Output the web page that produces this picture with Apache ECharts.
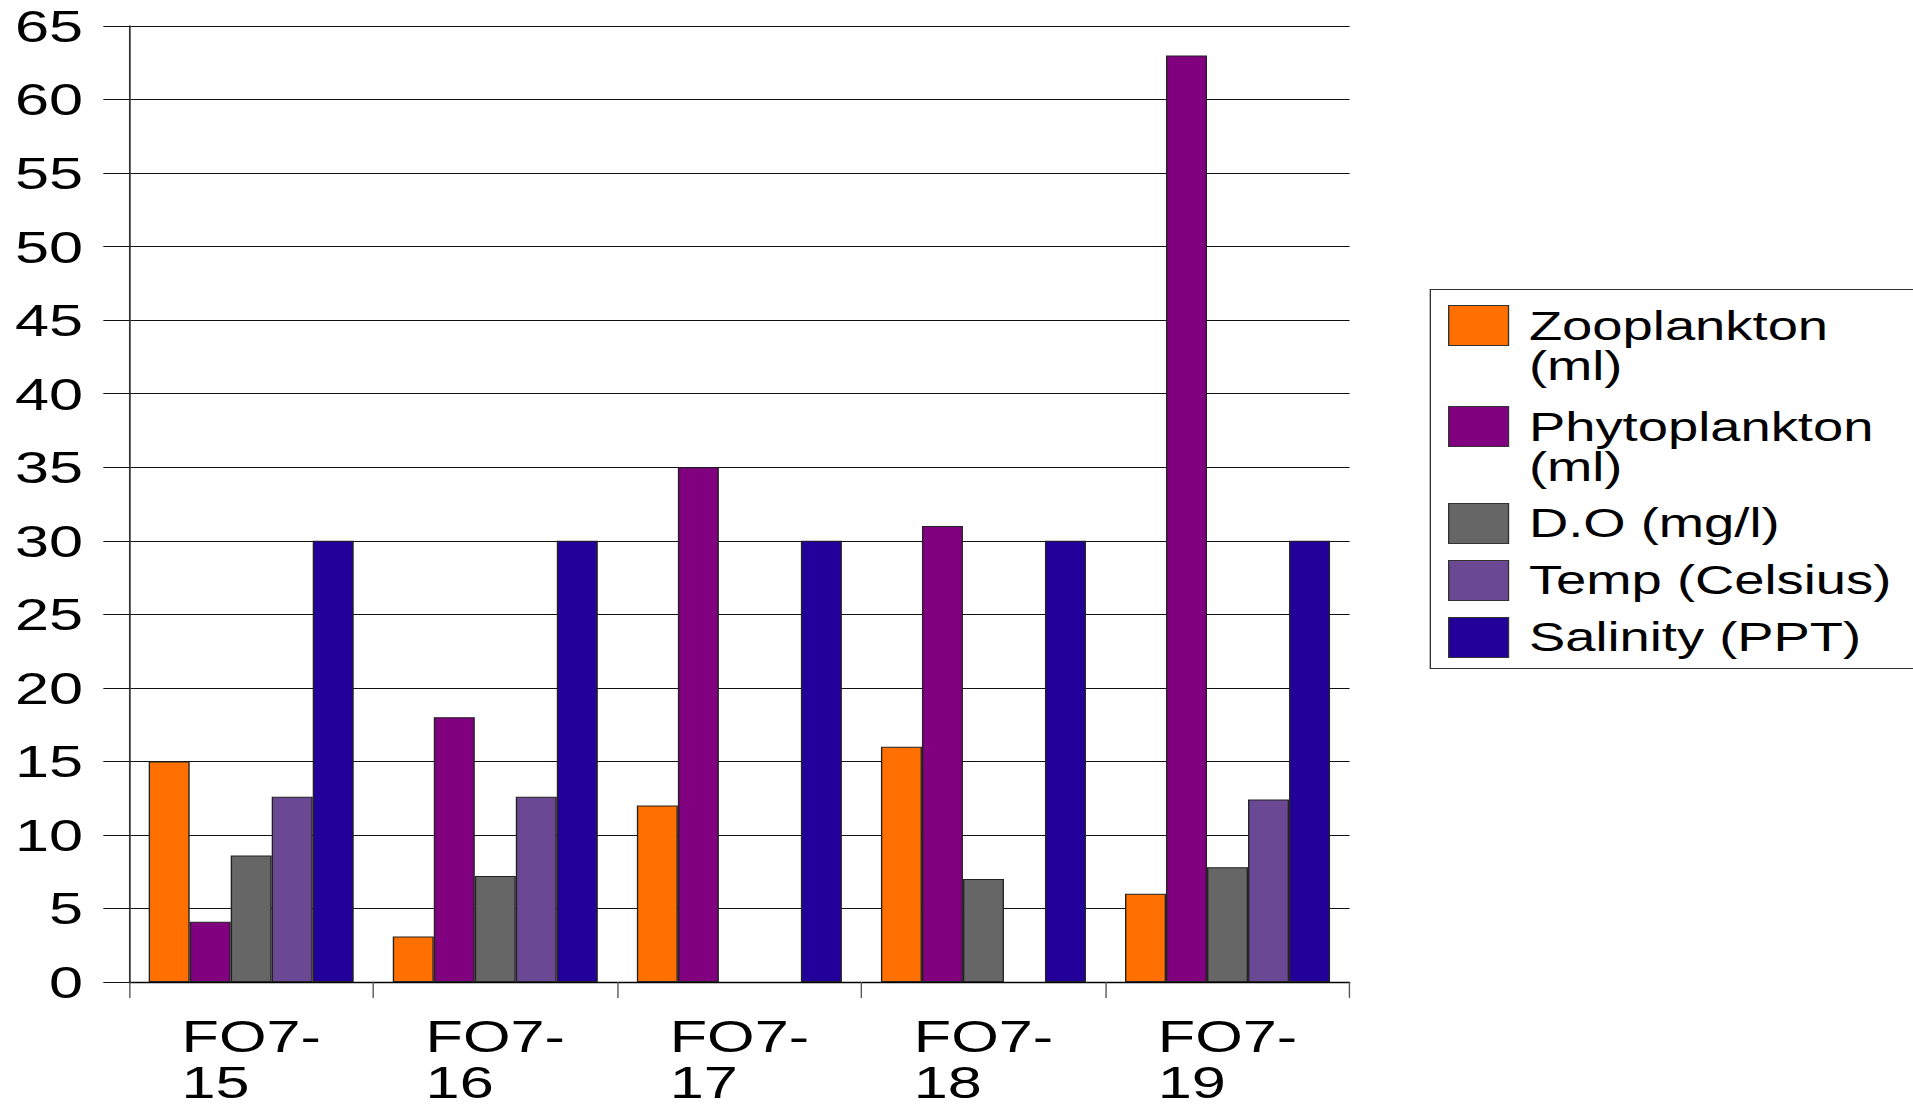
<!DOCTYPE html>
<html>
<head>
<meta charset="utf-8">
<script src="https://cdn.jsdelivr.net/npm/echarts@6/dist/echarts.min.js"></script>
<style>
  html, body { margin: 0; padding: 0; background: #ffffff; overflow: hidden; }
  /* the chart is laid out narrow and widened horizontally, giving the wide lettering */
  #chart { width: 1407px; height: 1108px; transform: scaleX(1.35963); transform-origin: 0 0; }
</style>
</head>
<body>
<div id="chart"></div>
<script>
// Sampling stations
const stations = ['FO7-15', 'FO7-16', 'FO7-17', 'FO7-18', 'FO7-19'];

// Measurements per station (null = not measured)
const zooplankton     = [15, 3.1, 12, 16, 6];
const phytoplankton   = [4.1, 18, 35, 31, 63];
const dissolvedOxygen = [8.6, 7.2, null, 7, 7.8];
const temperature     = [12.6, 12.6, null, null, 12.4];
const salinity        = [30, 30, 30, 30, 30];

// Value axis ticks
const yMin = 0;
const yMax = 65;
const yStep = 5;

const seriesNames = ['Zooplankton (ml)', 'Phytoplankton (ml)', 'D.O (mg/l)', 'Temp (Celsius)', 'Salinity (PPT)'];
const seriesValues = [zooplankton, phytoplankton, dissolvedOxygen, temperature, salinity];
const seriesColors = ['#ff7000', '#800080', '#666666', '#6b4894', '#24009a'];

const FONT = '"Liberation Sans", Arial, Helvetica, sans-serif';

// swatch drawn in the upper part of a taller slot, so two-line entries keep it beside the first line
const tallSwatch = 'path://M0,0L44,0L44,40L0,40Z M0,82';

const chart = echarts.init(document.getElementById('chart'), null, { renderer: 'svg' });

const legendCommon = {
  orient: 'vertical',
  left: 1065,
  padding: 0,
  itemWidth: 44,
  itemStyle: { borderColor: '#333', borderWidth: 1 },
  textStyle: { fontFamily: FONT, fontSize: 40, lineHeight: 40, color: '#000', padding: [0, 0, 0, 10] },
  selectedMode: true
};

chart.setOption({
  animation: false,
  backgroundColor: '#ffffff',
  grid: { left: 95, right: 414.4, top: 26, bottom: 126 },
  xAxis: {
    type: 'category',
    data: stations,
    axisLine: { lineStyle: { color: '#000', width: 1.3 } },
    axisTick: { show: true, length: 16, lineStyle: { color: '#555', width: 1 } },
    axisLabel: {
      margin: 27,
      interval: 0,
      // station code broken after the hyphen, both lines flush left
      formatter: function (v) {
        const cut = v.indexOf('-') + 1;
        return '{a|' + v.slice(0, cut) + '}\n{b|' + v.slice(cut) + '}';
      },
      rich: {
        a: { fontFamily: FONT, fontSize: 45, lineHeight: 54, color: '#000', align: 'left' },
        b: { fontFamily: FONT, fontSize: 45, lineHeight: 38, color: '#000', align: 'left' }
      }
    },
    splitLine: { show: false }
  },
  yAxis: {
    type: 'value',
    min: yMin,
    max: yMax,
    interval: yStep,
    axisLine: { show: true, lineStyle: { color: '#333', width: 1.3 } },
    axisTick: { show: true, length: 19, lineStyle: { color: '#111', width: 1 } },
    axisLabel: { fontFamily: FONT, fontSize: 45, color: '#000', margin: 34, padding: [10, 0, 0, 0] },
    splitLine: { show: true, lineStyle: { color: '#111', width: 1 } }
  },
  legend: [
    Object.assign({}, legendCommon, {
      top: 305,
      itemHeight: 82,
      itemGap: 18,
      data: [
        { name: seriesNames[0], icon: tallSwatch },
        { name: seriesNames[1], icon: tallSwatch }
      ],
      formatter: function (n) { return n.replace(' (ml)', '\n(ml)'); }
    }),
    Object.assign({}, legendCommon, {
      top: 503,
      itemHeight: 40,
      itemGap: 16,
      icon: 'rect',
      data: [seriesNames[2], seriesNames[3], seriesNames[4]]
    })
  ],
  graphic: [
    {
      type: 'rect',
      silent: true,
      z: -10,
      shape: { x: 1052, y: 289.5, width: 420, height: 379 },
      style: { fill: 'none', stroke: '#333', lineWidth: 1 }
    }
  ],
  series: seriesNames.map(function (name, i) {
    return {
      name: name,
      type: 'bar',
      data: seriesValues[i],
      barGap: '0%',
      barCategoryGap: '16%',
      itemStyle: { color: seriesColors[i], borderColor: '#222', borderWidth: 1 },
      emphasis: { disabled: true }
    };
  })
});
</script>
</body>
</html>
